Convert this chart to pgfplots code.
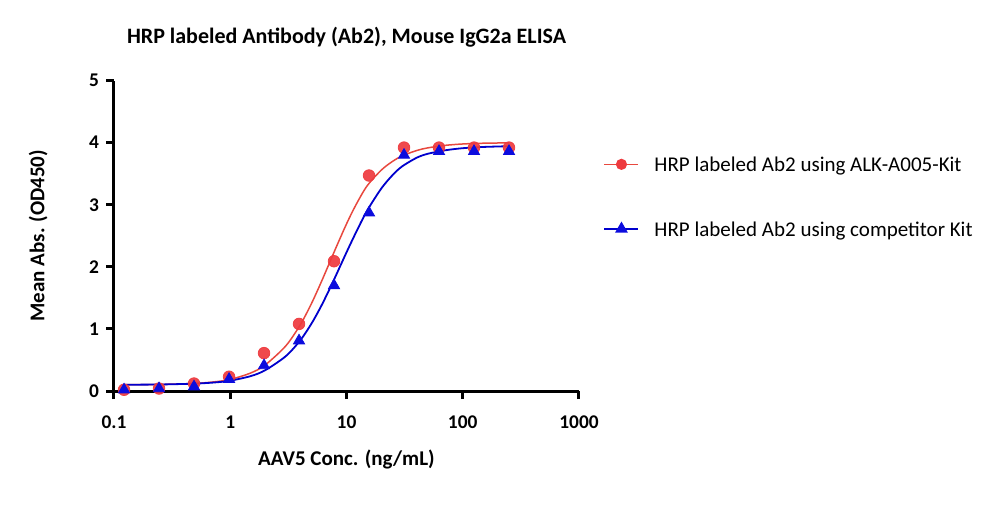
\documentclass[border=0pt]{standalone}
\usepackage{pgfplots}
\pgfplotsset{compat=1.18}
\usepackage{fontspec}
\setmainfont{Carlito}

\definecolor{redpt}{RGB}{238,58,62}
\definecolor{redln}{RGB}{232,72,62}
\definecolor{bluept}{RGB}{12,12,222}
\definecolor{blueln}{RGB}{0,0,205}

\begin{document}
\begin{tikzpicture}
\useasboundingbox (-57pt,-63.5pt) rectangle (443pt,195.5pt);
\begin{axis}[
  at={(0pt,0pt)}, anchor=south west,
  scale only axis, width=232.5pt, height=155.25pt,
  xmode=log, xmin=0.1, xmax=1000, ymin=0, ymax=5,
  axis lines=left,
  axis line style={line width=1.5pt, -},
  xtick={0.1,1,10,100,1000},
  xticklabels={0.1,1,10,100,1000},
  ytick={0,1,2,3,4,5},
  xminorticks=false, yminorticks=false,
  tick style={line width=1.5pt, black},
  major tick length=4pt, tick align=outside,
  /pgf/number format/assume math mode=true,
  ticklabel style={font=\bfseries\fontsize{9.7}{11}\selectfont},
  xticklabel style={yshift=-5pt},
  xlabel={AAV5 Conc. (ng/mL)},
  ylabel={Mean Abs. (OD450)},
  label style={font=\bfseries\fontsize{10.5}{12}\selectfont},
  xlabel style={at={(axis description cs:0.5,-0.221)}, anchor=center},
  ylabel style={at={(axis description cs:-0.163,0.5)}, anchor=center},
  clip=false,
  legend cell align=left,
  legend style={draw=none, fill=none, at={(axis description cs:1.052,0.626)},
    anchor=west, inner sep=0pt, row sep=25pt,
    font=\fontsize{10.5}{12}\selectfont,
    nodes={inner sep=0pt, text depth=0pt}},
  legend image code/.code={
    \draw[#1, mark repeat=2, mark phase=2]
      plot coordinates {(0pt,0pt) (8.5pt,0pt) (17pt,0pt)};
    \path[draw=none, fill=none] (17pt,-0.1pt) rectangle (25pt,0.1pt);},
]
% legend entries: fitted line with its marker
\addlegendimage{redln, line width=0.75pt, mark=*, mark size=2.4pt,
  mark options={fill=redpt, draw=redpt, solid}}
\addlegendentry{HRP labeled Ab2 using ALK-A005-Kit}
\addlegendimage{blueln, line width=0.9pt, mark=triangle*, mark size=2.8pt,
  mark options={fill=bluept, draw=bluept, solid}}
\addlegendentry{HRP labeled Ab2 using competitor Kit}

% fitted curve, ALK-A005-Kit
\addplot[redln, line width=0.75pt, smooth, forget plot] coordinates {
  (0.122,0.101) (0.25,0.106) (0.5,0.122) (0.75,0.150) (1,0.186)
  (1.5,0.290) (2,0.420) (3,0.725) (4,1.065) (5,1.410) (6,1.735)
  (7,2.025) (8,2.280) (10,2.690) (12,2.990) (15,3.300) (20,3.560)
  (25,3.700) (30,3.785) (40,3.872) (50,3.915) (70,3.955) (100,3.978)
  (150,3.990) (250,3.996)};
% fitted curve, competitor kit
\addplot[blueln, line width=0.9pt, smooth, forget plot] coordinates {
  (0.122,0.101) (0.25,0.105) (0.5,0.119) (0.75,0.139) (1,0.166)
  (1.5,0.240) (2,0.335) (3,0.560) (4,0.815) (5,1.086) (6,1.352)
  (7,1.605) (8,1.836) (10,2.232) (12,2.544) (15,2.900) (20,3.265)
  (25,3.480) (30,3.615) (40,3.755) (50,3.820) (70,3.875) (100,3.910)
  (150,3.930) (250,3.942)};

% measured means, ALK-A005-Kit
\addplot[only marks, mark=*, mark size=2.9pt, draw=redpt, fill=redpt,
  opacity=0.92, forget plot] coordinates {
  (0.122,0.02) (0.244,0.04) (0.488,0.12) (0.977,0.23) (1.953,0.61)
  (3.906,1.08) (7.813,2.09) (15.63,3.47) (31.25,3.92) (62.5,3.92)
  (125,3.92) (250,3.92)};
% measured means, competitor kit
\addplot[only marks, mark=triangle*, mark size=3.2pt, draw=bluept,
  fill=bluept, forget plot] coordinates {
  (0.122,0.02) (0.244,0.04) (0.488,0.07) (0.977,0.19) (1.953,0.41)
  (3.906,0.81) (7.813,1.70) (15.63,2.87) (31.25,3.80) (62.5,3.86)
  (125,3.86) (250,3.86)};
\end{axis}
\node[font=\bfseries\fontsize{11}{13}\selectfont] at (116.25pt,177pt)
  {HRP labeled Antibody (Ab2), Mouse IgG2a ELISA};
\end{tikzpicture}
\end{document}
